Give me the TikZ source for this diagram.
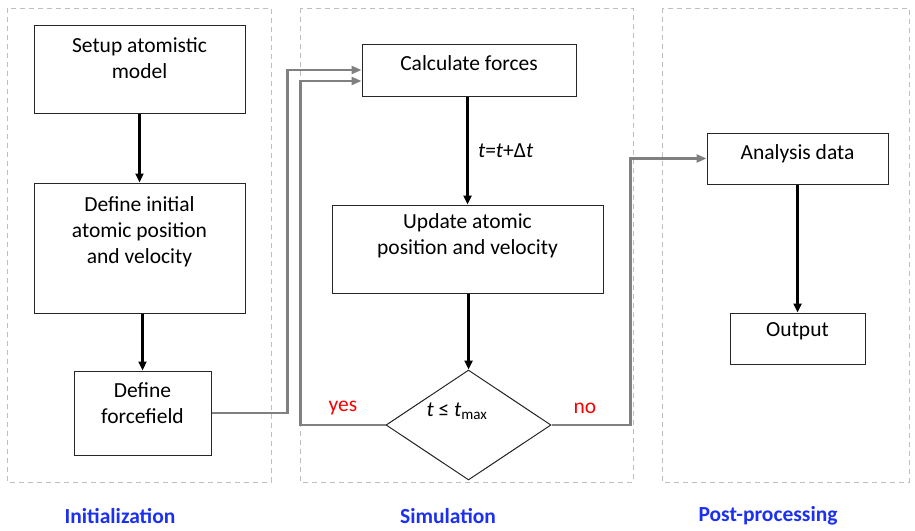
\documentclass[tikz,border=0pt]{standalone}
\usepackage{fontspec}
\setmainfont{Carlito}
\usetikzlibrary{arrows.meta, shapes.geometric}

\definecolor{linkgray}{RGB}{128,128,128}
\definecolor{panelgray}{RGB}{190,190,190}
\definecolor{titleblue}{RGB}{28,48,240}
\definecolor{answerred}{RGB}{250,0,0}

\begin{document}
\begin{tikzpicture}[x=1pt, y=-1pt, font=\fontsize{21.5}{26}\selectfont,
    box/.style={draw=black!85, line width=1pt, inner sep=0pt},
    boxtext/.style={align=center, inner sep=0pt},
    decision/.style={diamond, draw=black!85, line width=1pt, inner sep=0pt, minimum width=165, minimum height=110},
    flow/.style={black, line width=2.4pt, -{Triangle[length=9pt, width=8pt]}},
    link/.style={linkgray, line width=2.4pt, -{Triangle[length=10pt, width=8pt]}},
    panel/.style={panelgray, line width=0.9pt, dash pattern=on 5pt off 4pt},
    title/.style={titleblue, font=\fontsize{21.5}{26}\selectfont\bfseries}]
    \useasboundingbox (0,0) rectangle (915,530);

    % Panels
    \draw[panel] (7,8) rectangle (271,482);
    \draw[panel] (300,8) rectangle (633,482);
    \draw[panel] (662,8) rectangle (909,482);

    % Initialization
    \node[box, minimum width=211, minimum height=88] (setup) at (139.5,69) {};
    \node[boxtext] (setup-txt) at ([yshift=11pt]setup.center) {Setup atomistic\\model};
    \node[box, minimum width=211, minimum height=130] (init) at (139.5,248) {};
    \node[boxtext] (init-txt) at ([yshift=16pt]init.center) {Define initial\\atomic position\\and velocity};
    \node[box, minimum width=137, minimum height=84] (ff) at (142.5,413) {};
    \node[boxtext] (ff-txt) at ([yshift=10pt]ff.center) {Define\\forcefield};
    \draw[flow] (setup) -- (init);
    \draw[flow] (init.south -| ff.north) -- (ff);

    % Simulation
    \node[box, minimum width=214, minimum height=52] (calc) at (469,70) {};
    \node[boxtext] (calc-txt) at ([yshift=7pt]calc.center) {Calculate forces};
    \node[box, minimum width=271, minimum height=88] (update) at (467.5,249) {};
    \node[boxtext] (update-txt) at ([yshift=13pt]update.center) {Update atomic\\position and velocity};
    \node[decision] (check) at (468.5,425) {};
    \node (cond) at (457,411) {\textit{t} ≤ \textit{t}\textsubscript{max}};
    \draw[flow] (calc.south -| update.north) -- (update) node[midway, right=6pt] (step) {\textit{t}=\textit{t}+Δ\textit{t}};
    \draw[flow] (update.south -| check.north) -- (check);
    \node[answerred] (yes) at (343,408) {yes};
    \node[answerred] (no) at (585,408) {no};

    % Post-processing
    \node[box, minimum width=181, minimum height=51] (ana) at (797.5,158.5) {};
    \node[boxtext] (ana-txt) at ([yshift=5pt]ana.center) {Analysis data};
    \node[box, minimum width=135, minimum height=51] (out) at (797.5,338.5) {};
    \node[boxtext] (out-txt) at ([yshift=7pt]out.center) {Output};
    \draw[flow] (ana) -- (out);

    % Links between stages
    \draw[link] (ff.east) -- ++(76,0) |- (calc.west);
    \draw[link] (check.west) -- ++(-85,0) |- ([yshift=-11pt]calc.west);
    \draw[link] (check.east) -- ++(79,0) |- (ana.west);

    % Stage titles
    \node[title] (t-init) at (120,516) {Initialization};
    \node[title] (t-sim) at (448,516) {Simulation};
    \node[title] (t-post) at (768,516) {Post-processing};
\end{tikzpicture}
\end{document}
